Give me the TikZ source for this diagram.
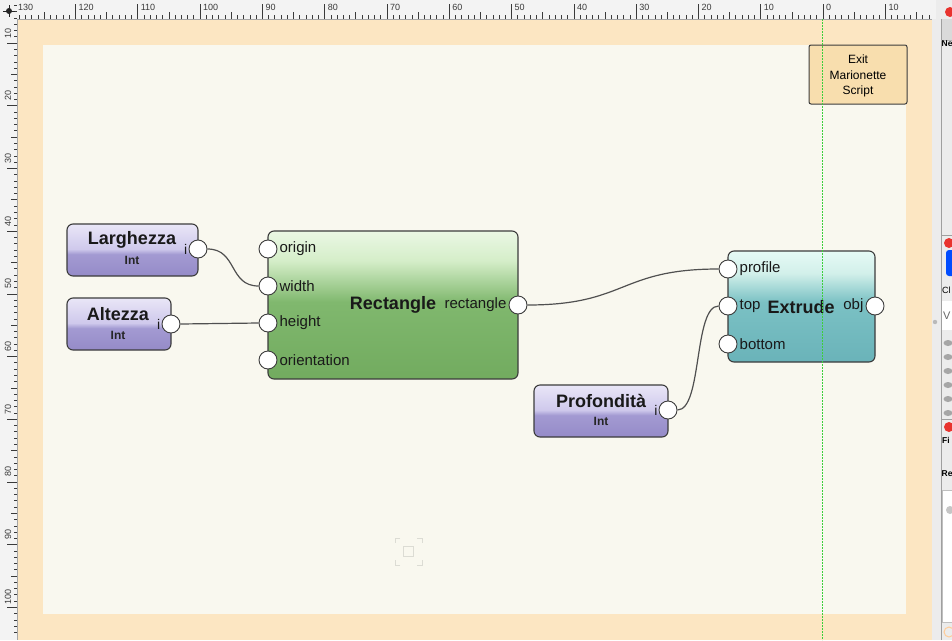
\documentclass[tikz,border=0pt]{standalone}
\usepackage{fontspec}
\setmainfont{Liberation Sans}
\usetikzlibrary{positioning}

\definecolor{rulerbg}{HTML}{F3F3F3}
\definecolor{rulerink}{HTML}{3A3A3A}
\definecolor{pagebg}{HTML}{FCE6C2}
\definecolor{canvasbg}{HTML}{F9F8EF}
\definecolor{exitbg}{HTML}{F8DEAE}
\definecolor{edge}{HTML}{3C3C3C}
\definecolor{wireink}{HTML}{505050}
\definecolor{guidegreen}{HTML}{3CCF3C}
\definecolor{panelbg}{HTML}{ECECEC}
\definecolor{panelhead}{HTML}{DADADA}
\definecolor{dotred}{HTML}{E8332E}
\definecolor{selgray}{HTML}{DCDCD4}
% Int nodes
\definecolor{lilacA}{HTML}{E9E6F7}
\definecolor{lilacB}{HTML}{CFC9EC}
\definecolor{lilacC}{HTML}{A39AD2}
\definecolor{lilacD}{HTML}{958BC8}
% Rectangle
\definecolor{greenA}{HTML}{EAF7E4}
\definecolor{greenB}{HTML}{D5EEC9}
\definecolor{greenC}{HTML}{80B86E}
\definecolor{greenD}{HTML}{72AB5F}
% Extrude
\definecolor{tealA}{HTML}{E6FAF5}
\definecolor{tealB}{HTML}{D2F0EA}
\definecolor{tealC}{HTML}{7BC1C4}
\definecolor{tealD}{HTML}{6AB3B9}

\pgfdeclareverticalshading{lilacglass}{100bp}{color(0bp)=(lilacD); color(25bp)=(lilacD);
  color(46bp)=(lilacC); color(51bp)=(lilacB); color(75bp)=(lilacA); color(100bp)=(lilacA)}
\pgfdeclareverticalshading{greenglass}{100bp}{color(0bp)=(greenD); color(25bp)=(greenD);
  color(51bp)=(greenC); color(65bp)=(greenB); color(75bp)=(greenA); color(100bp)=(greenA)}
\pgfdeclareverticalshading{tealglass}{100bp}{color(0bp)=(tealD); color(25bp)=(tealD);
  color(52bp)=(tealC); color(65bp)=(tealB); color(75bp)=(tealA); color(100bp)=(tealA)}

\begin{document}
\begin{tikzpicture}[
      x=1pt, y=-1pt,
      blk/.style={draw=edge, line width=1.1pt, rounded corners=6pt, inner sep=0pt},
      intblk/.style={blk, shading=lilacglass, minimum height=52pt},
      rectblk/.style={blk, shading=greenglass, minimum width=250pt, minimum height=148pt},
      extblk/.style={blk, shading=tealglass, minimum width=147pt, minimum height=111pt},
      exitbox/.style={draw=edge, line width=1pt, rounded corners=2pt, fill=exitbg,
                  minimum width=98pt, minimum height=59pt},
      exittxt/.style={align=center, inner sep=0pt, font=\fontsize{12}{15.5}\selectfont},
      port/.style={circle, draw=edge, fill=white, line width=0.9pt,
                  minimum size=18pt, inner sep=0pt},
      ttl/.style={font=\fontsize{18}{20}\selectfont\bfseries, text=black!90, inner sep=0pt},
      sub/.style={font=\fontsize{12}{14}\selectfont\bfseries, text=black!85, inner sep=0pt},
      plbl/.style={font=\fontsize{15}{17}\selectfont, text=black!90, inner sep=1pt},
      wire/.style={draw=wireink, line width=1.2pt},
      tick/.style={draw=rulerink, line width=0.6pt},
      rnum/.style={font=\fontsize{9}{10}\selectfont, text=rulerink, inner sep=0pt},
      guide/.style={draw=guidegreen, line width=0.8pt, dash pattern=on 2pt off 1pt},
      dot/.style={circle, fill=dotred, minimum size=10pt, inner sep=0pt},
      pnltxt/.style={font=\fontsize{8.5}{10}\selectfont\bfseries, anchor=west, inner sep=0pt}]

    \useasboundingbox (0,0) rectangle (952,640);
    \clip (0,0) rectangle (952,640);

    % ============================================
    % page and canvas
    % ============================================
    \fill[pagebg] (17,19) rectangle (932,640);
    \fill[canvasbg] (43,45) rectangle (906,614);

    % ============================================
    % rulers
    % ============================================
    \fill[rulerbg] (0,0) rectangle (936,19);
    \fill[rulerbg] (0,19) rectangle (17,640);
    \draw[draw=gray!70, line width=0.6pt] (17,19) -- (936,19);
    \draw[draw=gray!70, line width=0.6pt] (17,19) -- (17,640);

    \foreach \v in {-129,...,17} {
        \pgfmathsetmacro{\tl}{ifthenelse(mod(\v,10)==0,15,ifthenelse(mod(\v,5)==0,7,4))}
        \draw[tick] ({823+6.23*\v}, 19) -- ++(0,-\tl);
    }
    \foreach \v in {-130,-120,...,10} {
        \pgfmathtruncatemacro{\t}{abs(\v)}
        \node[rnum, anchor=north west] (tn\v) at ({max(823+6.23*\v+3,18)}, 4) {\t};
    }

    \foreach \v in {4,...,104} {
        \pgfmathsetmacro{\tl}{ifthenelse(mod(\v,10)==0,10,ifthenelse(mod(\v,5)==0,6,3))}
        \draw[tick] (17, {-19.7+6.27*\v}) -- ++(-\tl,0);
    }
    \foreach \v in {10,20,...,100} {
        \node[rnum, rotate=90] (ln\v) at (8, {-19.7+6.27*\v-10}) {\v};
    }

    % corner move icon
    \fill[black!85] (9,11) circle (3);
    \draw[black!85, line width=1pt] (3,11) -- (15,11) (9,5) -- (9,17);

    % ============================================
    % side panel (cut off at the edge)
    % ============================================
    \fill[panelbg] (932,0) rectangle (952,640);
    \fill[rulerbg] (932,0) rectangle (936,19);
    \fill[panelhead] (941,19) rectangle (952,40);
    \draw[draw=gray!75, line width=0.8pt] (941,19) -- (941,640);
    \draw[draw=gray!60, line width=0.6pt] (941,40) -- (952,40);
    \node[dot] (dot1) at (950,12) {};
    \node[pnltxt] (pNe) at (941.5,44) {Ne};

    \draw[draw=gray!75, line width=0.8pt] (941,235) -- (952,235);
    \node[dot] (dot2) at (949,243) {};
    \fill[blue!70!cyan, rounded corners=3pt] (946,250) rectangle (956,276);
    \node[pnltxt, font=\fontsize{9}{11}\selectfont] (pCl) at (942,290) {Cl};
    \fill[white] (942,301) rectangle (952,330);
    \node[pnltxt, font=\fontsize{11}{13}\selectfont, text=gray!80!black] (pV) at (943,316) {V};
    \foreach \y in {343,357,371,385,399,413} {
        \fill[gray!70] (948,\y) ellipse (4.5 and 3);
    }
    \fill[gray!55] (935,322) circle (2.2);

    \draw[draw=gray!75, line width=0.8pt] (941,419) -- (952,419);
    \node[dot] (dot3) at (949,427) {};
    \node[pnltxt] (pFi) at (942,440) {Fi};
    \node[pnltxt] (pRe) at (941.5,474) {Re};
    \fill[white] (942,490) rectangle (952,622);
    \draw[draw=gray!50] (942,490) rectangle (953,622);
    \fill[gray!45] (950,510) circle (4);
    \draw[draw=orange!40, line width=1pt] (949,632) circle (5);

    % ============================================
    % exit box
    % ============================================
    \node[exitbox] (exit) at (858,74.5) {};
    \node[exittxt] (exit-t) at (858,76) {Exit\\Marionette\\Script};

    % ============================================
    % Int inputs
    % ============================================
    \node[intblk, minimum width=131pt] (larg) at (132.5,250) {};
    \node[ttl] (larg-t) at (132,240) {Larghezza};
    \node[sub] (larg-s) at (132,260) {Int};
    \node[port] (larg-i) at (198,249) {};
    \node[plbl, left=0pt of larg-i, font=\fontsize{14}{16}\selectfont] (larg-il) {i};

    \node[intblk, minimum width=104pt] (alt) at (119,324) {};
    \node[ttl] (alt-t) at (118,314) {Altezza};
    \node[sub] (alt-s) at (118,335) {Int};
    \node[port] (alt-i) at (171,324) {};
    \node[plbl, left=0pt of alt-i, font=\fontsize{14}{16}\selectfont] (alt-il) {i};

    \node[intblk, minimum width=134pt] (prof) at (601,411) {};
    \node[ttl] (prof-t) at (601,401) {Profondità};
    \node[sub] (prof-s) at (601,421) {Int};
    \node[port] (prof-i) at (668,410) {};
    \node[plbl, left=0pt of prof-i, font=\fontsize{14}{16}\selectfont] (prof-il) {i};

    % ============================================
    % Rectangle
    % ============================================
    \node[rectblk] (rect) at (393,305) {};
    \node[ttl] (rect-t) at (393,305) {Rectangle};
    \node[port] (r-origin) at (268,249) {};
    \node[port] (r-width) at (268,286) {};
    \node[port] (r-height) at (268,323) {};
    \node[port] (r-orient) at (268,360) {};
    \node[port] (r-out) at (518,305) {};
    \node[plbl, right=1pt of r-origin] (r-origin-l) {origin};
    \node[plbl, right=1pt of r-width] (r-width-l) {width};
    \node[plbl, right=1pt of r-height] (r-height-l) {height};
    \node[plbl, right=1pt of r-orient] (r-orient-l) {orientation};
    \node[plbl, left=1pt of r-out] (r-out-l) {rectangle};

    % ============================================
    % Extrude
    % ============================================
    \node[extblk] (extr) at (801.5,306.5) {};
    \node[ttl] (extr-t) at (801,307) {Extrude};
    \node[port] (x-profile) at (728,269) {};
    \node[port] (x-top) at (728,306) {};
    \node[port] (x-bottom) at (728,344) {};
    \node[port] (x-obj) at (875,306) {};
    \node[plbl, right=1pt of x-profile] (x-profile-l) {profile};
    \node[plbl, right=1pt of x-top] (x-top-l) {top};
    \node[plbl, right=1pt of x-bottom] (x-bottom-l) {bottom};
    \node[plbl, left=1pt of x-obj] (x-obj-l) {obj};

    % wires
    \draw[wire] (larg-i.east) .. controls +(30,0) and +(-30,0) .. (r-width.west);
    \draw[wire] (alt-i.east) -- (r-height.west);
    \draw[wire] (r-out.east) .. controls +(100,0) and +(-100,0) .. (x-profile.west);
    \draw[wire] (prof-i.east) .. controls +(25,0) and +(-25,0) .. (x-top.west);

    % selection marker
    \draw[selgray, line width=0.8pt] (403,546) rectangle (413,556);
    \foreach \cx/\cy/\sx/\sy in {395/538/1/1, 422/538/-1/1, 395/565/1/-1, 422/565/-1/-1} {
        \draw[selgray, line width=0.8pt] (\cx+5*\sx,\cy) -- (\cx,\cy) -- (\cx,\cy+5*\sy);
    }

    % zero guide
    \draw[guide] (822,19) -- (822,640);

    \end{tikzpicture}
\end{document}
